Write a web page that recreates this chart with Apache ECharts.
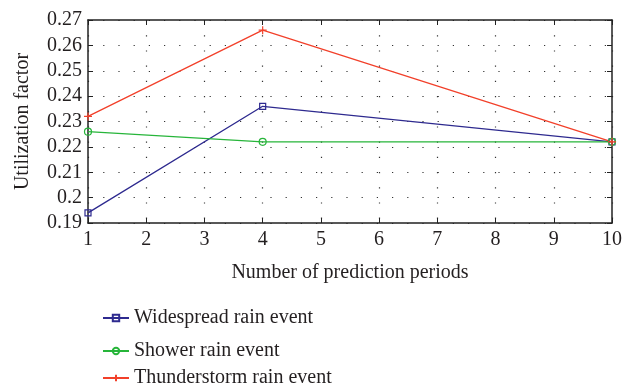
<!DOCTYPE html>
<html><head><meta charset="utf-8">
<script src="https://cdn.jsdelivr.net/npm/echarts@6/dist/echarts.min.js"></script>
<style>html,body{margin:0;padding:0;background:#fff}#c{width:634px;height:389px}</style>
</head><body><div id="c"></div>
<script>
const periods = [1, 4, 10];
const widespread = [0.194, 0.236, 0.222];
const shower = [0.226, 0.222, 0.222];
const thunderstorm = [0.232, 0.266, 0.222];
const seriesNames = ['Widespread rain event', 'Shower rain event', 'Thunderstorm rain event'];

const FONT = 'Liberation Serif';
const TXT = '#231f20';
const FS = 20;
const chart = echarts.init(document.getElementById('c'));
const pts = a => periods.map((p, i) => [p, a[i]]);
const gridLine = {show: true, lineStyle: {color: '#333', width: 1.2, type: [1.2, 14]}};
const axLine = {show: true, lineStyle: {color: '#222', width: 1.5}};
const tick = {show: true, inside: true, length: 5, lineStyle: {color: '#222', width: 1}};
const plus = 'path://M0,5L10,5M5,0L5,10';
chart.setOption({
  animation: false,
  grid: {left: 88, right: 22, top: 20, bottom: 166},
  xAxis: [{
    type: 'value', min: 1, max: 10, interval: 1, position: 'bottom',
    axisLine: axLine, axisTick: tick, splitLine: gridLine,
    axisLabel: {color: TXT, fontFamily: FONT, fontSize: FS, margin: 7},
    name: 'Number of prediction periods', nameLocation: 'middle', nameGap: 40,
    nameTextStyle: {color: TXT, fontFamily: FONT, fontSize: FS}
  }, {
    type: 'value', min: 1, max: 10, interval: 1, position: 'top',
    axisLine: axLine, axisTick: tick, splitLine: {show: false}, axisLabel: {show: false}
  }],
  yAxis: [{
    type: 'value', min: 0.19, max: 0.27, interval: 0.01, position: 'left',
    axisLine: axLine, axisTick: tick, splitLine: gridLine,
    axisLabel: {color: TXT, fontFamily: FONT, fontSize: FS, margin: 6, formatter: v => String(+v.toFixed(2))},
    name: 'Utilization factor', nameLocation: 'middle', nameGap: 55,
    nameTextStyle: {color: TXT, fontFamily: FONT, fontSize: FS}
  }, {
    type: 'value', min: 0.19, max: 0.27, interval: 0.01, position: 'right',
    axisLine: axLine, axisTick: tick, splitLine: {show: false}, axisLabel: {show: false}
  }],
  legend: [0, 1, 2].map((k, i) => ({
    data: [seriesNames[k]], left: 97, top: [303, 336, 363][i], orient: 'vertical',
    itemWidth: 26, itemHeight: 8, itemGap: 0,
    textStyle: {color: TXT, fontFamily: FONT, fontSize: FS}
  })),
  series: [
    {name: seriesNames[0], type: 'line', data: pts(widespread), symbol: 'rect', symbolSize: 6,
     lineStyle: {color: '#2e2a8f', width: 1.3},
     itemStyle: {color: 'rgba(255,255,255,0)', borderColor: '#2e2a8f', borderWidth: 1.2}},
    {name: seriesNames[1], type: 'line', data: pts(shower), symbol: 'circle', symbolSize: 7,
     lineStyle: {color: '#27b53a', width: 1.3},
     itemStyle: {color: 'rgba(255,255,255,0)', borderColor: '#27b53a', borderWidth: 1.2}},
    {name: seriesNames[2], type: 'line', data: pts(thunderstorm), symbol: plus, symbolSize: 8,
     lineStyle: {color: '#f2402a', width: 1.3},
     itemStyle: {color: 'rgba(255,255,255,0)', borderColor: '#f2402a', borderWidth: 1.2}}
  ]
});
</script></body></html>
